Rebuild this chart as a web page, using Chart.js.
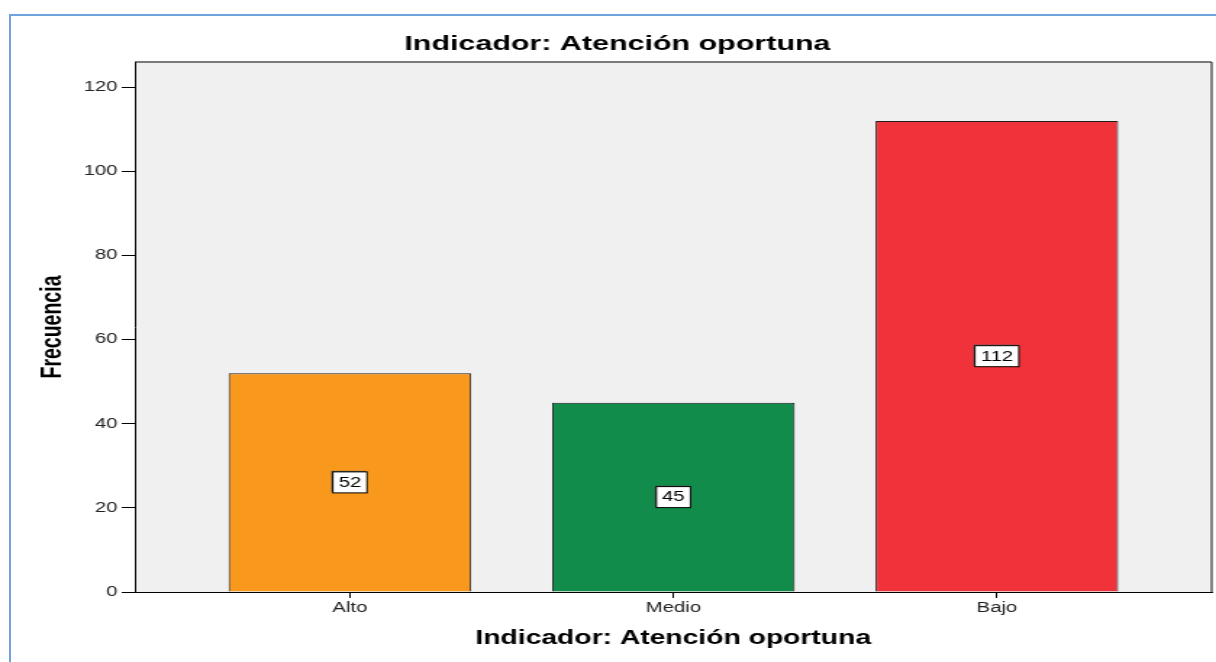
<!DOCTYPE html>
<html><head><meta charset="utf-8">
<script src="https://cdn.jsdelivr.net/npm/chart.js@4.4.1/dist/chart.umd.min.js"></script>
<style>
html,body{margin:0;padding:0;background:#fff;overflow:hidden;width:1216px;height:662px;}
#frame{position:absolute;left:9px;top:14px;width:1300px;height:700px;border-top:2px solid #6fa3dc;border-left:2px solid #6fa3dc;}
#wrap{position:absolute;left:0;top:0;width:839px;height:662px;transform:scaleX(1.449344);transform-origin:0 0;}
</style></head>
<body><div id="frame"></div><div id="wrap"><canvas id="c" width="839" height="662"></canvas></div>
<script>
const categories = ['Alto', 'Medio', 'Bajo'];
const frequencies = [52, 45, 112];
const barColors = ['#f8991d', '#118c4a', '#f0333a'];
const yTicks = [0, 20, 40, 60, 80, 100, 120];
const chartTitle = 'Indicador: Atención oportuna';
const xTitle = 'Indicador: Atención oportuna';
const yTitle = 'Frecuencia';

const FONT = "'Liberation Sans', Arial, sans-serif";

const plotBg = {
  id: 'plotBg',
  beforeDraw(chart) {
    const { ctx, chartArea: a } = chart;
    ctx.save();
    ctx.fillStyle = '#f0f0f0';
    ctx.fillRect(a.left, a.top, a.right - a.left, a.bottom - a.top);
    ctx.strokeStyle = '#7a7a7a';
    ctx.lineWidth = 2;
    ctx.beginPath();
    ctx.moveTo(a.left, a.top);
    ctx.lineTo(a.right, a.top);
    ctx.stroke();
    ctx.strokeStyle = '#333';
    ctx.lineWidth = 1.2;
    ctx.beginPath();
    ctx.moveTo(a.right, a.top);
    ctx.lineTo(a.right, a.bottom);
    ctx.stroke();
    ctx.restore();
  }
};

const valueLabels = {
  id: 'valueLabels',
  afterDatasetsDraw(chart) {
    const { ctx } = chart;
    const meta = chart.getDatasetMeta(0);
    ctx.save();
    ctx.font = '14px ' + FONT;
    meta.data.forEach((bar, i) => {
      const txt = String(frequencies[i]);
      const w = ctx.measureText(txt).width + 8;
      const h = 21;
      const cx = bar.x;
      const cy = (bar.y + bar.base) / 2;
      ctx.fillStyle = '#555';
      ctx.fillRect(cx - w / 2 - 1, cy - h / 2 - 1, w, h);
      ctx.fillStyle = '#fff';
      ctx.fillRect(cx - w / 2, cy - h / 2, w, h);
      ctx.strokeStyle = '#000';
      ctx.lineWidth = 1;
      ctx.strokeRect(cx - w / 2, cy - h / 2, w, h);
      ctx.fillStyle = '#000';
      ctx.textAlign = 'center';
      ctx.textBaseline = 'middle';
      ctx.fillText(txt, cx, cy + 0.5);
    });
    ctx.restore();
  }
};

new Chart(document.getElementById('c'), {
  type: 'bar',
  data: {
    datasets: [{
      data: categories.map((c, i) => ({ x: i + 1, y: frequencies[i] })),
      backgroundColor: barColors,
      borderColor: '#1e1e1e',
      borderWidth: 1,
      barPercentage: 0.75,
      categoryPercentage: 1
    }]
  },
  options: {
    responsive: false,
    animation: false,
    devicePixelRatio: 1,
    layout: { padding: { left: 16, right: 3, top: 0, bottom: 0 } },
    plugins: {
      legend: { display: false },
      tooltip: { enabled: false },
      title: {
        display: true,
        text: chartTitle,
        color: '#000',
        font: { family: FONT, size: 21, weight: 'bold' },
        padding: { top: 31.4, bottom: 5.4 }
      }
    },
    scales: {
      x: {
        type: 'linear',
        min: 0.335,
        max: 3.664,
        offset: false,
        afterBuildTicks: s => { s.ticks = categories.map((c, i) => ({ value: i + 1 })); },
        afterFit: s => { s.height = 70; },
        ticks: {
          callback: v => categories[v - 1] ?? '',
          font: { family: FONT, size: 14 },
          color: '#222',
          padding: 2,
          autoSkip: false,
          maxRotation: 0
        },
        grid: { offset: false, drawOnChartArea: false, tickLength: 6, color: '#000' },
        border: { color: '#000', width: 1 },
        title: {
          display: true,
          text: xTitle,
          color: '#000',
          font: { family: FONT, size: 19.5, weight: 'bold' },
          padding: { top: 0, bottom: 12 }
        }
      },
      y: {
        min: 0,
        max: 126,
        afterBuildTicks: s => { s.ticks = yTicks.map(v => ({ value: v })); },
        afterFit: s => { s.width = 77; },
        ticks: { font: { family: FONT, size: 14 }, color: '#222', padding: 3 },
        grid: { drawOnChartArea: false, tickLength: 9, color: '#000' },
        border: { color: '#000', width: 1 },
        title: {
          display: true,
          text: yTitle,
          color: '#000',
          font: { family: FONT, size: 19.5, weight: 'bold' },
          padding: { top: 9, bottom: 0 }
        }
      }
    }
  },
  plugins: [plotBg, valueLabels]
});
</script>
</body></html>
